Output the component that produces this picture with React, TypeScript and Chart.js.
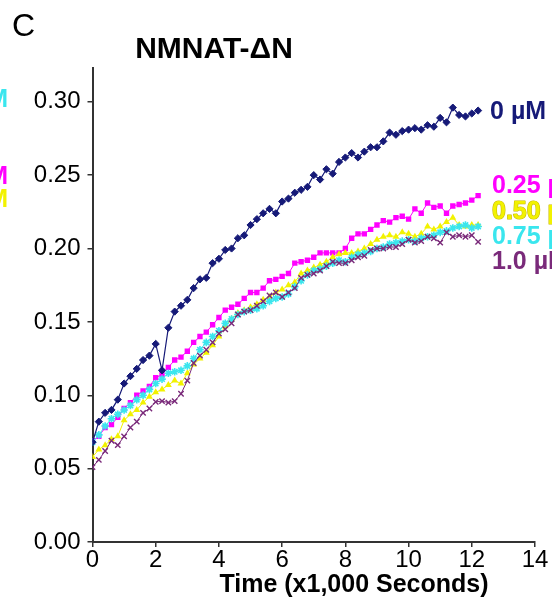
import React, { useEffect, useRef } from "react";
import { Chart, registerables } from "chart.js";

Chart.register(...registerables);

const timeK: number[] = [
  0.0, 0.2, 0.4, 0.6, 0.8, 1.0, 1.2, 1.4, 1.6, 1.8, 2.0, 2.2, 2.4, 2.6, 2.8, 3.0,
  3.2, 3.4, 3.6, 3.8, 4.0, 4.2, 4.4, 4.6, 4.8, 5.0, 5.2, 5.4, 5.6, 5.8, 6.0, 6.2,
  6.4, 6.6, 6.8, 7.0, 7.2, 7.4, 7.6, 7.8, 8.0, 8.2, 8.4, 8.6, 8.8, 9.0, 9.2, 9.4,
  9.6, 9.8, 10.0, 10.2, 10.4, 10.6, 10.8, 11.0, 11.2, 11.4, 11.6, 11.8, 12.0, 12.2,
];

const s0uM: number[] = [
  0.068, 0.082, 0.088, 0.09, 0.097, 0.108, 0.113, 0.118, 0.124, 0.127, 0.135, 0.117,
  0.146, 0.157, 0.161, 0.165, 0.173, 0.179, 0.18, 0.19, 0.193, 0.199, 0.2, 0.207,
  0.209, 0.216, 0.22, 0.224, 0.227, 0.224, 0.232, 0.234, 0.238, 0.24, 0.242, 0.25,
  0.247, 0.254, 0.251, 0.259, 0.262, 0.265, 0.262, 0.266, 0.269, 0.269, 0.273, 0.279,
  0.2775, 0.28, 0.281, 0.282, 0.281, 0.284, 0.283, 0.289, 0.286, 0.296, 0.291, 0.29,
  0.292, 0.294,
];

const s025uM: number[] = [
  0.069, 0.072, 0.078, 0.08, 0.085, 0.091, 0.095, 0.1, 0.103, 0.106, 0.112, 0.114,
  0.119, 0.124, 0.126, 0.13, 0.136, 0.14, 0.143, 0.148, 0.153, 0.158, 0.16, 0.162,
  0.166, 0.17, 0.17, 0.173, 0.178, 0.179, 0.181, 0.183, 0.19, 0.191, 0.192, 0.194,
  0.197, 0.197, 0.197, 0.197, 0.2, 0.207, 0.21, 0.21, 0.213, 0.216, 0.219, 0.218,
  0.221, 0.222, 0.22, 0.227, 0.224, 0.231, 0.228, 0.229, 0.224, 0.229, 0.23, 0.231,
  0.233, 0.236,
];

const s050uM: number[] = [
  0.058, 0.063, 0.066, 0.07, 0.072, 0.083, 0.087, 0.09, 0.095, 0.099, 0.102, 0.104,
  0.107, 0.11, 0.108, 0.115, 0.121, 0.125, 0.129, 0.134, 0.14, 0.147, 0.152, 0.156,
  0.158, 0.16, 0.162, 0.165, 0.167, 0.17, 0.172, 0.175, 0.177, 0.183, 0.185, 0.187,
  0.189, 0.191, 0.194, 0.196, 0.197, 0.197, 0.198, 0.2, 0.203, 0.206, 0.208, 0.209,
  0.208, 0.211, 0.21, 0.208, 0.21, 0.215, 0.213, 0.215, 0.218, 0.221, 0.216, 0.215,
  0.216, 0.216,
];

const s075uM: number[] = [
  0.068, 0.073, 0.079, 0.084, 0.087, 0.09, 0.093, 0.097, 0.1, 0.104, 0.108, 0.111,
  0.115, 0.116, 0.117, 0.12, 0.125, 0.131, 0.136, 0.14, 0.144, 0.149, 0.152, 0.155,
  0.157, 0.158, 0.159, 0.161, 0.164, 0.166, 0.167, 0.169, 0.174, 0.178, 0.182, 0.185,
  0.186, 0.188, 0.19, 0.192, 0.191, 0.194, 0.196, 0.197, 0.198, 0.2, 0.201, 0.203,
  0.204, 0.205, 0.206, 0.205, 0.207, 0.208, 0.209, 0.211, 0.212, 0.214, 0.215, 0.216,
  0.214, 0.215,
];

const s100uM: number[] = [
  0.051, 0.056, 0.062, 0.069, 0.066, 0.072, 0.078, 0.082, 0.088, 0.091, 0.0955, 0.096,
  0.095, 0.096, 0.101, 0.11, 0.122, 0.127, 0.131, 0.136, 0.142, 0.145, 0.149, 0.155,
  0.157, 0.158, 0.161, 0.164, 0.168, 0.17, 0.167, 0.17, 0.173, 0.18, 0.182, 0.183,
  0.185, 0.188, 0.191, 0.19, 0.19, 0.192, 0.194, 0.195, 0.199, 0.2, 0.2, 0.201,
  0.201, 0.203, 0.206, 0.204, 0.205, 0.208, 0.207, 0.204, 0.211, 0.208, 0.209, 0.208,
  0.209, 0.2045,
];

const seriesLabels: string[] = ["0 µM", "0.25 µM", "0.50 µM", "0.75 µM", "1.0 µM"];
const labelValues: number[] = [0.293, 0.2427, 0.225, 0.208, 0.191];
const xTickValues: number[] = [0, 2, 4, 6, 8, 10, 12, 14];
const titleText = "NMNAT-ΔN";
const panelLetter = "C";
const xAxisTitle = "Time (x1,000 Seconds)";

const NAVY = "#161a78";
const MAGENTA = "#ff00ff";
const YELLOW = "#f2f200";
const CYAN = "#3ae6ee";
const PURPLE = "#7a2a7a";
const FONT = "'Liberation Sans', Arial, sans-serif";

function pts(ys: number[]) {
  return ys.map((y, i) => ({ x: timeK[i], y }));
}

export default function App() {
  const ref = useRef<HTMLCanvasElement | null>(null);

  useEffect(() => {
    document.body.style.margin = "0";
    const canvas = ref.current;
    if (!canvas) return;

    const textPlugin = {
      id: "panelText",
      afterDraw(chart: any) {
        const ctx = chart.ctx as CanvasRenderingContext2D;
        const xs = chart.scales.x;
        const ys = chart.scales.y;
        ctx.save();
        ctx.textBaseline = "middle";
        ctx.fillStyle = "#000";
        ctx.font = `32px ${FONT}`;
        ctx.textAlign = "left";
        ctx.fillText(panelLetter, 12, 27);
        ctx.font = `bold 30px ${FONT}`;
        ctx.textAlign = "center";
        ctx.fillText(titleText, 214, 50);
        ctx.font = `bold 25px ${FONT}`;
        ctx.fillText(xAxisTitle, 354, 585);
        const colors = [NAVY, MAGENTA, YELLOW, CYAN, PURPLE];
        ctx.textAlign = "left";
        ctx.lineJoin = "round";
        for (let i = 0; i < seriesLabels.length; i++) {
          const px = xs.getPixelForValue(i === 0 ? 12.58 : 12.64);
          const py = ys.getPixelForValue(labelValues[i]);
          if (i === 2) {
            ctx.strokeStyle = "#c8b800";
            ctx.lineWidth = 1.2;
            ctx.strokeText(seriesLabels[i], px, py);
          }
          ctx.fillStyle = colors[i];
          ctx.fillText(seriesLabels[i], px, py);
        }
        ctx.textAlign = "right";
        const leftCols = [CYAN, MAGENTA, YELLOW];
        const leftY = [100, 177, 200];
        for (let i = 0; i < 3; i++) {
          ctx.fillStyle = leftCols[i];
          ctx.fillText("µM", 8, leftY[i]);
        }
        ctx.restore();
      },
    };

    const chart = new Chart(canvas, {
      type: "line",
      data: {
        datasets: [
          {
            label: seriesLabels[0],
            data: pts(s0uM),
            borderColor: NAVY,
            backgroundColor: NAVY,
            borderWidth: 1.2,
            pointStyle: "rectRot",
            pointRadius: 3.6,
            pointBorderWidth: 1,
            order: 1,
          },
          {
            label: seriesLabels[1],
            data: pts(s025uM),
            borderColor: MAGENTA,
            backgroundColor: MAGENTA,
            borderWidth: 1,
            pointStyle: "rect",
            pointRadius: 3.8,
            pointBorderWidth: 0,
            order: 5,
          },
          {
            label: seriesLabels[2],
            data: pts(s050uM),
            borderColor: YELLOW,
            backgroundColor: YELLOW,
            borderWidth: 1,
            pointStyle: "triangle",
            pointRadius: 4,
            pointBorderWidth: 0,
            order: 4,
          },
          {
            label: seriesLabels[3],
            data: pts(s075uM),
            borderColor: CYAN,
            backgroundColor: CYAN,
            borderWidth: 1,
            pointStyle: "star",
            pointRadius: 3.8,
            pointBorderWidth: 1.6,
            order: 3,
          },
          {
            label: seriesLabels[4],
            data: pts(s100uM),
            borderColor: PURPLE,
            backgroundColor: PURPLE,
            borderWidth: 1,
            pointStyle: "crossRot",
            pointRadius: 3.8,
            pointBorderWidth: 1.4,
            order: 2,
          },
        ],
      },
      options: {
        animation: false,
        responsive: false,
        maintainAspectRatio: false,
        layout: { padding: { left: 0, right: 17, top: 68, bottom: 0 } },
        plugins: {
          legend: { display: false },
          title: { display: false },
          tooltip: { enabled: false },
        },
        scales: {
          x: {
            type: "linear",
            min: 0,
            max: 14,
            afterBuildTicks: (scale: any) => {
              scale.ticks = xTickValues.map((v) => ({ value: v }));
            },
            afterFit: (scale: any) => {
              scale.height = 59;
            },
            grid: {
              display: true,
              drawOnChartArea: false,
              drawTicks: true,
              tickLength: 5,
              color: "#333",
              lineWidth: 1.5,
            },
            border: { display: true, color: "#333", width: 2 },
            ticks: {
              color: "#000",
              font: { family: FONT, size: 24 },
              padding: -1,
              maxRotation: 0,
              autoSkip: false,
            },
            title: { display: false },
          },
          y: {
            type: "linear",
            min: 0,
            max: 0.323,
            afterFit: (scale: any) => {
              scale.width = 92.5;
            },
            grid: {
              display: true,
              drawOnChartArea: false,
              drawTicks: true,
              tickLength: 5,
              color: "#333",
              lineWidth: 1.5,
            },
            border: { display: true, color: "#333", width: 2 },
            ticks: {
              stepSize: 0.05,
              includeBounds: false,
              color: "#000",
              font: { family: FONT, size: 24 },
              padding: 7,
              callback: (v: any) => Number(v).toFixed(2),
            },
          },
        },
      },
      plugins: [textPlugin],
    } as any);

    return () => chart.destroy();
  }, []);

  return (
    <div style={{ width: 552, height: 601, background: "#fff" }}>
      <canvas ref={ref} width={552} height={601} style={{ display: "block" }} />
    </div>
  );
}
